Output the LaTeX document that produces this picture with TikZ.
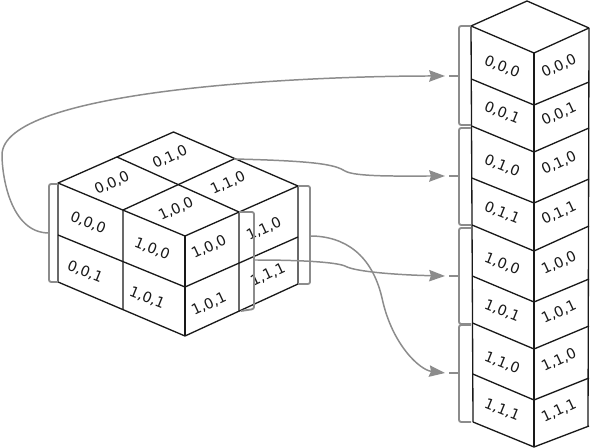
\documentclass[tikz,border=0pt]{standalone}
\usepackage{fontspec}
\setmainfont{DejaVu Sans}
\usetikzlibrary{arrows.meta}
\tikzset{
  edge/.style   = {draw=black!90, line width=0.75pt, line join=round},
  cell/.style   = {font=\fontsize{8.2}{9}\selectfont, text=black!90, inner sep=0pt},
  brace/.style  = {draw=black!45, line width=1.05pt, rounded corners=1.2pt},
  link/.style   = {draw=black!45, line width=0.85pt,
                   -{Stealth[length=9pt, width=6.5pt, inset=1pt]}}
}

\begin{document}
\begin{tikzpicture}[x=0.02cm, y=-0.02cm]
\useasboundingbox (0,0) rectangle (590,448);
% Left block corners
\coordinate (back)   at (173.5,132);
\coordinate (left)   at (58,183);
\coordinate (front)  at (185,236);
\coordinate (right)  at (298,186);
\coordinate (leftB)  at (58,282);
\coordinate (frontB) at (185,336);
\coordinate (rightB) at (298,284);
% Left block edges
\draw[edge] (back) -- (left) -- (front) -- (right) -- cycle;
\draw[edge] (left) -- (leftB) -- (frontB) -- (rightB) -- (right);
\draw[edge] (front) -- (frontB);
\draw[edge] (58,235) -- (185,287) -- (298,237);
\draw[edge] (117,157) -- (239,212) -- (239,311);
\draw[edge] (234,159) -- (123,210) -- (123,310);
% Left block labels
\foreach \x/\y/\a/\txt [count=\i] in {
  170/157/25/{0,1,0}, 112/183/25/{0,0,0}, 228/183/25/{1,1,0}, 176/209/25/{1,0,0},
  88/223/-22/{0,0,0}, 152/249/-22/{1,0,0}, 85/272/-22/{0,0,1}, 147/298/-22/{1,0,1},
  209/247/25/{1,0,0}, 209/304/25/{1,0,1}, 264/229/25/{1,1,0}, 268/275/25/{1,1,1}} {
  \node[cell, rotate=\a] (block\i) at (\x,\y) {\txt};
}
% Right stack
\draw[edge] (471,26) -- (527,1) -- (589,28);
\draw[edge] (471,26) -- (473,422);
\draw[edge] (534,53) -- (534,447);
\draw[edge] (589,28) -- (588,426);
\foreach \yl/\yf/\yr in {26/53/28, 79/105/82, 126/152/128, 178/203/179,
                         225/251/226, 276/302/279, 323/349/326, 374/400/378, 422/447/426} {
  \draw[edge] ({471+(\yl-26)*0.005},\yl) -- (534,\yf) -- (589,\yr);
}
% Right stack labels
\foreach \y/\yy/\txt [count=\i] in {
  67/66/{0,0,0}, 113/114/{0,0,1}, 166/163/{0,1,0}, 213/213/{0,1,1},
  264/263/{1,0,0}, 311/312/{1,0,1}, 363/360/{1,1,0}, 410/411/{1,1,1}} {
  \node[cell, rotate=-22] (stackL\i) at (502,\y) {\txt};
  \node[cell, rotate=25] (stackR\i) at (559,\yy) {\txt};
}
% Brackets on the stack
\foreach \i/\ya/\yb/\ym in {1/26/125/76, 2/128/225/176, 3/228/324/276, 4/325/422/373} {
  \draw[brace] (471,\ya) -- (459,\ya) -- (459,\yb) -- (471,\yb);
  \draw[brace] (459,\ym) -- (449,\ym);
  \coordinate (in\i) at (445,\ym);
}
% Brackets on the block
\draw[brace] (58,184) -- (49,184) -- (49,282) -- (58,282);
\draw[brace] (298,186) -- (310,186) -- (310,284) -- (298,284);
\draw[brace] (239,212) -- (254,212) -- (254,309) -- (241,311);
\coordinate (outA) at (49,233);
\coordinate (outB) at (234,159);
\coordinate (outC) at (254,260);
\coordinate (outD) at (310,236);
% Connectors
\draw[link] (outA) .. controls (10,233) and (2,175) .. (2,155)
  .. controls (2,90) and (300,76) .. (in1);
\draw[link] (outB) .. controls (320,161) and (335,165) .. (345,171)
  .. controls (355,177) and (400,176) .. (in2);
\draw[link] (outC) .. controls (300,260) and (335,262) .. (345,266)
  .. controls (355,272) and (400,275) .. (in3);
\draw[link] (outD) .. controls (345,236) and (372,255) .. (382,298)
  .. controls (392,345) and (420,370) .. (in4);
\end{tikzpicture}
\end{document}
